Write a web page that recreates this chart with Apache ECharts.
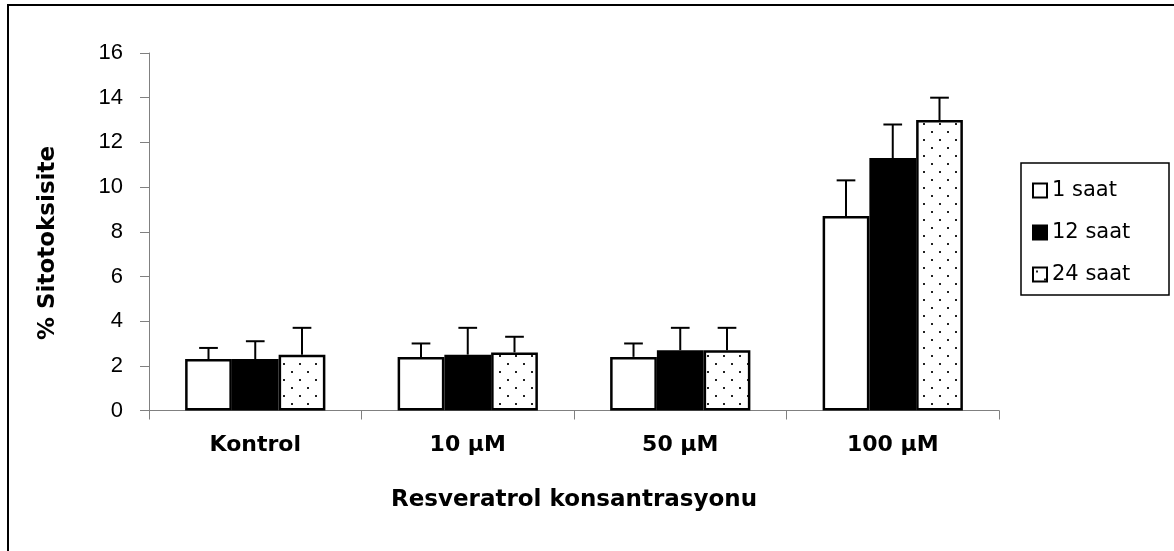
<!DOCTYPE html>
<html>
<head>
<meta charset="utf-8">
<script src="https://cdn.jsdelivr.net/npm/echarts@6/dist/echarts.min.js"></script>
<style>
  html, body { margin: 0; padding: 0; background: #fff; }
  #chart { width: 1174px; height: 551px; }
</style>
</head>
<body>
<div id="chart"></div>
<script>
// values
var categories = ['Kontrol', '10 µM', '50 µM', '100 µM'];
var seriesNames = ['1 saat', '12 saat', '24 saat'];
var saat1 = [2.3, 2.4, 2.4, 8.7];
var saat12 = [2.3, 2.5, 2.7, 11.3];
var saat24 = [2.5, 2.6, 2.7, 13.0];
var err1 = [0.5, 0.6, 0.6, 1.6];
var err12 = [0.8, 1.2, 1.0, 1.5];
var err24 = [1.2, 0.7, 1.0, 1.0];
var yTicks = [0, 16, 2]; // min, max, interval

var catGap = 0.34;

// dotted fill for the 24 saat bars
function dotPattern() {
  var c = document.createElement('canvas');
  c.width = 16;
  c.height = 16;
  var ctx = c.getContext('2d');
  ctx.fillStyle = '#fff';
  ctx.fillRect(0, 0, 16, 16);
  ctx.fillStyle = '#222';
  ctx.fillRect(3, 3, 2, 2);
  ctx.fillRect(11, 11, 2, 2);
  return { image: c, repeat: 'repeat' };
}

function barSeries(name, values, fill) {
  return {
    name: name,
    type: 'bar',
    data: values,
    barGap: 0,
    barCategoryGap: (catGap * 100) + '%',
    itemStyle: { color: fill, borderColor: '#000', borderWidth: 2.5 }
  };
}

// error bar going up from the top of bar k in each group
function errorSeries(values, errors, k) {
  var data = values.map(function (v, i) { return [i, v, errors[i]]; });
  return {
    type: 'custom',
    name: seriesNames[k] + ' hata',
    data: data,
    silent: true,
    z: 3,
    renderItem: function (params, api) {
      var bandW = api.size([1, 0])[0];
      var barW = bandW * (1 - catGap) / 3;
      var base = api.coord([api.value(0), api.value(1)]);
      var top = api.coord([api.value(0), api.value(1) + api.value(2)]);
      var x = base[0] + (k - 1) * barW;
      var half = barW * 0.2;
      return {
        type: 'group',
        children: [
          { type: 'line', shape: { x1: x, y1: base[1], x2: x, y2: top[1] }, style: { stroke: '#000', lineWidth: 2 } },
          { type: 'line', shape: { x1: x - half, y1: top[1], x2: x + half, y2: top[1] }, style: { stroke: '#000', lineWidth: 2 } }
        ]
      };
    }
  };
}

var chart = echarts.init(document.getElementById('chart'), null, { renderer: 'canvas' });

var option = {
  animation: false,
  backgroundColor: '#fff',
  grid: { left: 149, right: 175, top: 53, bottom: 140.5 },
  legend: {
    data: seriesNames,
    orient: 'vertical',
    left: 1021,
    top: 163,
    padding: [17, 10, 10, 11],
    borderColor: '#000',
    borderWidth: 1.5,
    itemWidth: 14,
    itemHeight: 14,
    itemGap: 21,
    icon: 'rect',
    textStyle: { fontFamily: 'DejaVu Sans', fontSize: 21, lineHeight: 20, color: '#000', width: 107 }
  },
  xAxis: {
    type: 'category',
    data: categories,
    name: 'Resveratrol konsantrasyonu',
    nameLocation: 'middle',
    nameGap: 78,
    nameTextStyle: { fontFamily: 'DejaVu Sans', fontWeight: 'bold', fontSize: 23, color: '#000' },
    axisLine: { lineStyle: { color: '#808080', width: 1 } },
    axisTick: { show: true, length: 9, lineStyle: { color: '#808080' } },
    axisLabel: { margin: 24, fontFamily: 'DejaVu Sans', fontWeight: 'bold', fontSize: 22, color: '#000' },
    splitLine: { show: false }
  },
  yAxis: {
    type: 'value',
    min: yTicks[0],
    max: yTicks[1],
    interval: yTicks[2],
    axisLine: { show: true, lineStyle: { color: '#808080', width: 1 } },
    axisTick: { show: true, length: 9, lineStyle: { color: '#808080' } },
    axisLabel: { margin: 26, fontFamily: 'Liberation Sans', fontSize: 22, color: '#000' },
    splitLine: { show: false }
  },
  graphic: [
    {
      type: 'rect',
      shape: { x: 8, y: 5, width: 1200, height: 600 },
      style: { fill: null, stroke: '#000', lineWidth: 2 },
      silent: true
    },
    {
      type: 'text',
      x: 48,
      y: 243,
      rotation: Math.PI / 2,
      style: {
        text: '% Sitotoksisite',
        fontFamily: 'DejaVu Sans',
        fontWeight: 'bold',
        fontSize: 23,
        fill: '#000',
        align: 'center',
        verticalAlign: 'middle'
      }
    }
  ],
  series: [
    barSeries(seriesNames[0], saat1, '#fff'),
    barSeries(seriesNames[1], saat12, '#000'),
    barSeries(seriesNames[2], saat24, dotPattern()),
    errorSeries(saat1, err1, 0),
    errorSeries(saat12, err12, 1),
    errorSeries(saat24, err24, 2)
  ]
};

chart.setOption(option);
</script>
</body>
</html>
